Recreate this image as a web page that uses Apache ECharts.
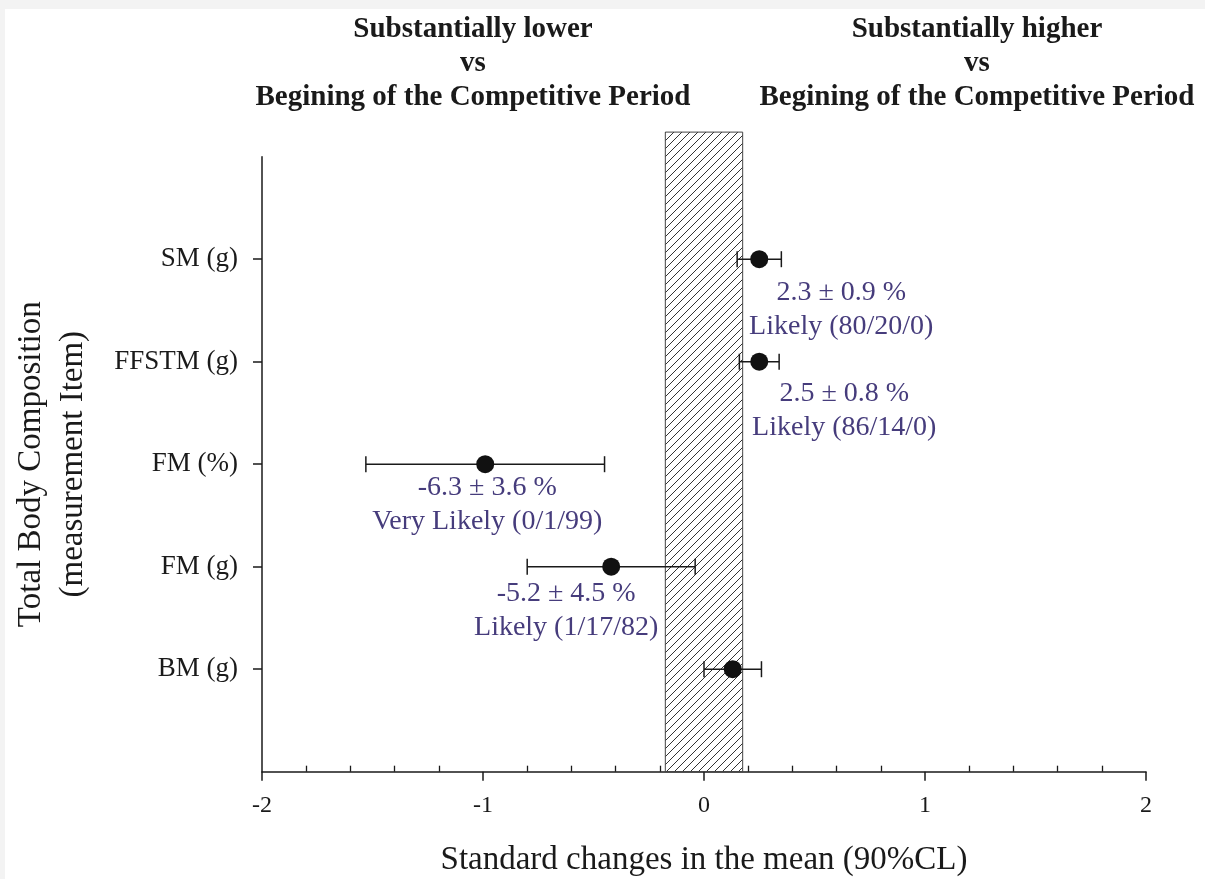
<!DOCTYPE html>
<html><head><meta charset="utf-8">
<script src="https://cdn.jsdelivr.net/npm/echarts@6/dist/echarts.min.js"></script>
<style>
html,body{margin:0;padding:0;background:#f3f3f3;width:1205px;height:879px;overflow:hidden}
#c{position:absolute;left:5px;top:9px;width:1200px;height:870px;background:#fff}
</style></head><body><div id="c"></div>
<script>
// ---- data (y position 1..5 from bottom) ----
const categories = ['BM (g)', 'FM (g)', 'FM (%)', 'FFSTM (g)', 'SM (g)'];
const means = [0.13, -0.42, -0.99, 0.25, 0.25];
const lower = [0.00, -0.80, -1.53, 0.16, 0.15];
const upper = [0.26, -0.04, -0.45, 0.34, 0.35];
const effectText = ['', '-5.2 ± 4.5 %', '-6.3 ± 3.6 %', '2.5 ± 0.8 %', '2.3 ± 0.9 %'];
const likelihoodText = ['', 'Likely (1/17/82)', 'Very Likely (0/1/99)', 'Likely (86/14/0)', 'Likely (80/20/0)'];
const trivialZone = [-0.175, 0.175];
const xTickValues = [-2, -1, 0, 1, 2];
const headerLeft = 'Substantially lower\nvs\nBegining of the Competitive Period';
const headerRight = 'Substantially higher\nvs\nBegining of the Competitive Period';
const xTitle = 'Standard changes in the mean (90%CL)';
const yTitle = 'Total Body Composition\n(measurement Item)';

// ---- layout (not data) ----
const labelOffsets = [null, [-45, 44], [2, 40], [85, 49], [82, 50]];
const FONT = 'Liberation Serif';
const INK = '#1a1a1a';
const yMax = 6;

const pc = document.createElement('canvas');
pc.width = 8; pc.height = 8;
const g = pc.getContext('2d');
g.strokeStyle = '#333'; g.lineWidth = 1;
g.beginPath();
g.moveTo(0, 8); g.lineTo(8, 0);
g.moveTo(-1, 1); g.lineTo(1, -1);
g.moveTo(7, 9); g.lineTo(9, 7);
g.stroke();

const chart = echarts.init(document.getElementById('c'), null, {renderer: 'canvas'});
const yVals = categories.map((c, i) => i + 1);

chart.setOption({
  animation: false,
  backgroundColor: '#fff',
  title: [
    {text: headerLeft, left: 468, top: 4, textAlign: 'center', padding: 0,
     textStyle: {fontFamily: FONT, fontWeight: 'bold', fontSize: 29, lineHeight: 34, color: INK}},
    {text: headerRight, left: 972, top: 4, textAlign: 'center', padding: 0,
     textStyle: {fontFamily: FONT, fontWeight: 'bold', fontSize: 29, lineHeight: 34, color: INK}}
  ],
  grid: {left: 257, right: 59, top: 147.7, bottom: 107.3, containLabel: false, outerBoundsMode: 'none'},
  xAxis: {
    type: 'value', min: xTickValues[0], max: xTickValues[xTickValues.length - 1], interval: 1,
    splitLine: {show: false},
    axisLine: {show: true, onZero: false, lineStyle: {color: INK, width: 1.5}},
    axisTick: {show: true, length: 9, lineStyle: {color: INK, width: 1.5}},
    minorTick: {show: true, splitNumber: 5, length: -6, lineStyle: {color: INK, width: 1.3}},
    minorSplitLine: {show: false},
    axisLabel: {fontFamily: FONT, fontSize: 24, color: INK, margin: 22},
    name: xTitle, nameLocation: 'middle', nameGap: 72,
    nameTextStyle: {fontFamily: FONT, fontSize: 33, color: INK}
  },
  yAxis: {
    type: 'value', min: 0, max: yMax, interval: 1,
    splitLine: {show: false},
    axisLine: {show: true, onZero: false, lineStyle: {color: INK, width: 1.5}},
    axisTick: {show: true, length: 9, customValues: yVals, lineStyle: {color: INK, width: 1.5}},
    axisLabel: {customValues: yVals, formatter: v => categories[Math.round(v) - 1] || '',
                fontFamily: FONT, fontSize: 27, color: INK, margin: 24},
    name: yTitle, nameLocation: 'middle', nameRotate: 90, nameGap: 168,
    nameTextStyle: {fontFamily: FONT, fontSize: 33, lineHeight: 42, color: INK}
  },
  series: [
    {
      type: 'custom', z: 1, clip: false, silent: true,
      data: [[trivialZone[0], trivialZone[1]]],
      encode: {x: [0, 1]},
      renderItem: function (params, api) {
        const p0 = api.coord([api.value(0), yMax + 0.24]);
        const p1 = api.coord([api.value(1), 0]);
        return {type: 'rect', shape: {x: p0[0], y: p0[1], width: p1[0] - p0[0], height: p1[1] - p0[1]},
          style: {fill: {image: pc, repeat: 'repeat'}, stroke: '#444', lineWidth: 1}};
      }
    },
    {
      type: 'custom', z: 2, clip: false, silent: true,
      data: categories.map((c, i) => [lower[i], upper[i], i + 1]),
      encode: {x: [0, 1], y: 2},
      renderItem: function (params, api) {
        const y = api.value(2);
        const a = api.coord([api.value(0), y]);
        const b = api.coord([api.value(1), y]);
        const h = 8;
        const st = {stroke: INK, lineWidth: 1.5};
        return {type: 'group', children: [
          {type: 'line', shape: {x1: a[0], y1: a[1], x2: b[0], y2: b[1]}, style: st},
          {type: 'line', shape: {x1: a[0], y1: a[1] - h, x2: a[0], y2: a[1] + h}, style: st},
          {type: 'line', shape: {x1: b[0], y1: b[1] - h, x2: b[0], y2: b[1] + h}, style: st}
        ]};
      }
    },
    {
      type: 'scatter', z: 3, symbol: 'circle', symbolSize: 18, silent: true,
      itemStyle: {color: '#111', opacity: 1},
      label: {show: false},
      data: means.map((m, i) => ({
        value: [m, i + 1],
        label: effectText[i] ? {
          show: true, position: 'inside', offset: labelOffsets[i],
          formatter: effectText[i] + '\n' + likelihoodText[i],
          fontFamily: FONT, fontSize: 28, lineHeight: 34, color: '#463c7c', align: 'center'
        } : {show: false}
      }))
    }
  ]
});
</script></body></html>
